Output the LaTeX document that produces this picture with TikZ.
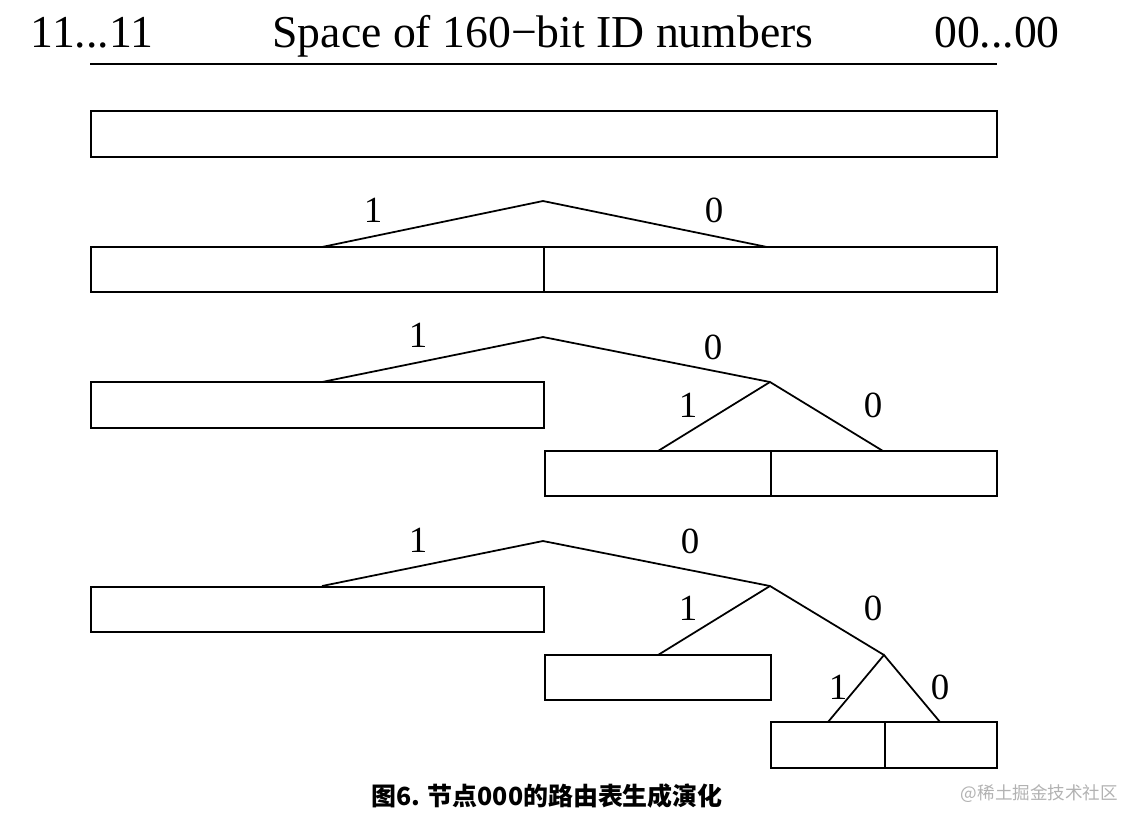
\documentclass[tikz,border=0pt]{standalone}
\usepackage{fontspec}
\setmainfont{Liberation Serif}
\newfontfamily\cjk{Noto Sans CJK SC}
\begin{document}
\begin{tikzpicture}[x=0.02cm, y=-0.02cm, line width=1pt,
    head/.style={font=\fontsize{26}{26}\selectfont, inner sep=0pt, anchor=base},
    bit/.style={font=\fontsize{21}{21}\selectfont, inner sep=0pt}]
\useasboundingbox (0,0) rectangle (1146,826);

    % Header
    \node[head] (ones) at (92,47) {11...11};
    \node[head] (space) at (543,47) {Space of 160−bit ID numbers};
    \node[head] (zeros) at (997,47) {00...00};
    \coordinate (hl) at (90,64);
    \coordinate (hr) at (997,64);
    \draw (hl) -- (hr);

    % Row 1: one bucket
    \draw (91,111) rectangle (997,157);

    % Row 2: split once
    \draw (91,247) rectangle (997,292);
    \draw (544,247) -- (544,292);
    \coordinate (a2) at (543,201);
    \coordinate (l2) at (322,247);
    \coordinate (r2) at (767,247);
    \draw (l2) -- (a2) -- (r2);
    \node[bit] (b21) at (373,210) {1};
    \node[bit] (b20) at (714,210) {0};

    % Row 3: split the 0 half
    \draw (91,382) rectangle (544,428);
    \draw (545,451) rectangle (997,496);
    \draw (771,451) -- (771,496);
    \coordinate (a3) at (543,337);
    \coordinate (l3) at (322,382);
    \coordinate (r3) at (770,382);
    \coordinate (l30) at (658,451);
    \coordinate (r30) at (883,451);
    \draw (l3) -- (a3) -- (r3);
    \draw (l30) -- (r3) -- (r30);
    \node[bit] (b31) at (418,335) {1};
    \node[bit] (b30) at (713,347) {0};
    \node[bit] (b301) at (688,405) {1};
    \node[bit] (b300) at (873,405) {0};

    % Row 4: split the 00 quarter
    \draw (91,587) rectangle (544,632);
    \draw (545,655) rectangle (771,700);
    \draw (771,722) rectangle (997,768);
    \draw (885,722) -- (885,768);
    \coordinate (a4) at (543,541);
    \coordinate (l4) at (322,586);
    \coordinate (r4) at (770,586);
    \coordinate (l40) at (658,655);
    \coordinate (r40) at (884,655);
    \coordinate (l400) at (828,722);
    \coordinate (r400) at (940,722);
    \draw (l4) -- (a4) -- (r4);
    \draw (l40) -- (r4) -- (r40);
    \draw (l400) -- (r40) -- (r400);
    \node[bit] (b41) at (418,540) {1};
    \node[bit] (b40) at (690,541) {0};
    \node[bit] (b401) at (688,608) {1};
    \node[bit] (b400) at (873,608) {0};
    \node[bit] (b4001) at (838,687) {1};
    \node[bit] (b4000) at (940,687) {0};

    % Caption
    \node[font=\cjk\bfseries\fontsize{14.2}{14.2}\selectfont, inner sep=0pt] (cap) at (547,796) {图6. 节点000的路由表生成演化};
    \node[font=\cjk\fontsize{10}{10}\selectfont, text=black!30, anchor=east, inner sep=0pt] (mark) at (1119,794) {@稀土掘金技术社区};

\end{tikzpicture}
\end{document}
